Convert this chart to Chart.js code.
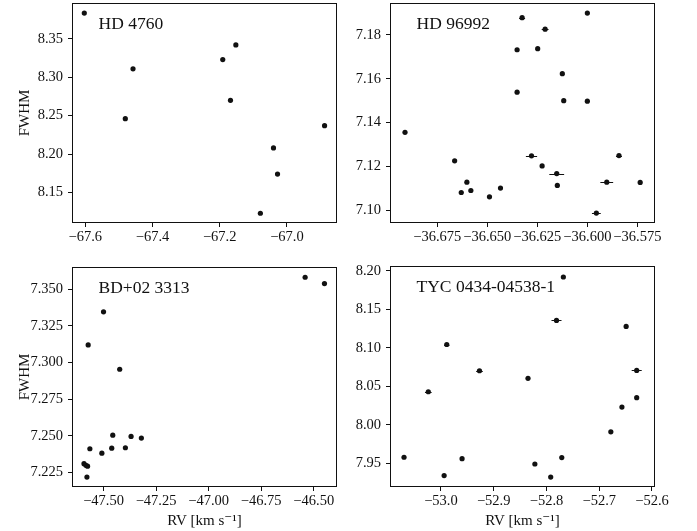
<!DOCTYPE html>
<html>
<head>
<meta charset="utf-8">
<script src="https://cdn.jsdelivr.net/npm/chart.js@4.4.1/dist/chart.umd.min.js"></script>
<style>
  html, body { margin: 0; padding: 0; background: #fff; }
  #wrap { position: relative; width: 697px; height: 531px; }
  #wrap canvas { position: absolute; left: 0; top: 0; }
</style>
</head>
<body>
<div id="wrap">
  <canvas id="p1" width="697" height="531"></canvas>
  <canvas id="p2" width="697" height="531"></canvas>
  <canvas id="p3" width="697" height="531"></canvas>
  <canvas id="p4" width="697" height="531"></canvas>
</div>
<script>
// ---- star names ----
const starNames = ['HD 4760', 'HD 96992', 'BD+02 3313', 'TYC 0434-04538-1'];

// ---- HD 4760 ----
const rvHD4760 = [-67.603, -67.458, -67.481, -67.191, -67.152, -67.168, -67.040, -67.028, -67.079, -66.888];
const fwhmHD4760 = [8.3835, 8.311, 8.246, 8.323, 8.342, 8.270, 8.208, 8.174, 8.123, 8.237];
const xTicksHD4760 = [-67.6, -67.4, -67.2, -67.0];
const yTicksHD4760 = [8.15, 8.20, 8.25, 8.30, 8.35];

// ---- HD 96992 ----
const rvHD96992 = [-36.6911, -36.6663, -36.6630, -36.6602, -36.6582, -36.6489, -36.6434, -36.6351,
  -36.6351, -36.6326, -36.6279, -36.6248, -36.6226, -36.6211, -36.6153, -36.6150, -36.6125,
  -36.6118, -36.6000, -36.6000, -36.5955, -36.5903, -36.5842, -36.5736];
const fwhmHD96992 = [7.1356, 7.1226, 7.1082, 7.1129, 7.1091, 7.1062, 7.1102, 7.1732,
  7.1539, 7.1878, 7.1249, 7.1737, 7.1203, 7.1826, 7.1168, 7.1114, 7.1623,
  7.1500, 7.1899, 7.1498, 7.0988, 7.1129, 7.1250, 7.1128];
const rvErrHD96992 = [0.001, 0.001, 0.001, 0.001, 0.001, 0.001, 0.001, 0.001,
  0.001, 0.0015, 0.0028, 0.001, 0.001, 0.0017, 0.0037, 0.001, 0.001,
  0.001, 0.001, 0.001, 0.0022, 0.0032, 0.0015, 0.001];
const xTicksHD96992 = [-36.675, -36.650, -36.625, -36.600, -36.575];
const yTicksHD96992 = [7.10, 7.12, 7.14, 7.16, 7.18];

// ---- BD+02 3313 ----
const rvBD023313 = [-47.593, -47.584, -47.576, -47.579, -47.573, -47.565, -47.508, -47.500,
  -47.461, -47.456, -47.423, -47.396, -47.369, -47.320, -46.541, -46.449];
const fwhmBD023313 = [7.2309, 7.2298, 7.2292, 7.2218, 7.3120, 7.2411, 7.2381, 7.3346,
  7.2415, 7.2504, 7.2954, 7.2418, 7.2495, 7.2484, 7.3582, 7.3539];
const xTicksBD023313 = [-47.50, -47.25, -47.00, -46.75, -46.50];
const yTicksBD023313 = [7.225, 7.250, 7.275, 7.300, 7.325, 7.350];

// ---- TYC 0434-04538-1 ----
const rvTYC0434 = [-53.070, -53.024, -52.994, -52.989, -52.960, -52.927, -52.835, -52.822,
  -52.792, -52.781, -52.771, -52.768, -52.678, -52.657, -52.649, -52.629, -52.629];
const fwhmTYC0434 = [7.9578, 8.0430, 7.9340, 8.1044, 7.9560, 8.0703, 8.0604, 7.9490,
  7.9320, 8.1357, 7.9574, 8.1922, 7.9909, 8.0230, 8.1279, 8.0707, 8.0352];
const rvErrTYC0434 = [0.003, 0.0063, 0.003, 0.005, 0.003, 0.0063, 0.003, 0.003,
  0.003, 0.0095, 0.003, 0.003, 0.003, 0.003, 0.003, 0.0095, 0.003];
const xTicksTYC0434 = [-53.0, -52.9, -52.8, -52.7, -52.6];
const yTicksTYC0434 = [7.95, 8.00, 8.05, 8.10, 8.15, 8.20];

// ---- drawing ----
const FONT = "'Liberation Serif', 'DejaVu Serif', serif";
const INK = '#111111';
const W = 697, H = 531;

function fmt(dec) {
  return v => (v < 0 ? '\u2212' : '') + Math.abs(v).toFixed(dec);
}

// x error bars under the markers, a full box frame and the star name
const framePlugin = {
  id: 'frame',
  beforeDatasetsDraw(chart) {
    const { ctx, scales } = chart;
    chart.data.datasets.forEach(ds => {
      if (!ds.xErr) return;
      ctx.save();
      ctx.strokeStyle = INK;
      ctx.lineWidth = 1;
      ds.data.forEach((p, i) => {
        const e = ds.xErr[i];
        if (!e) return;
        const x0 = scales.x.getPixelForValue(p.x - e);
        const x1 = scales.x.getPixelForValue(p.x + e);
        const y = Math.round(scales.y.getPixelForValue(p.y)) + 0.5;
        ctx.beginPath();
        ctx.moveTo(x0, y);
        ctx.lineTo(x1, y);
        ctx.stroke();
      });
      ctx.restore();
    });
  },
  afterDraw(chart, args, opts) {
    const { ctx, chartArea: a } = chart;
    ctx.save();
    ctx.strokeStyle = INK;
    ctx.lineWidth = 1;
    ctx.strokeRect(Math.round(a.left) + 0.5, Math.round(a.top) + 0.5,
      Math.round(a.right - a.left) - 1, Math.round(a.bottom - a.top) - 1);
    if (opts.label) {
      ctx.fillStyle = INK;
      ctx.font = '17.5px ' + FONT;
      ctx.textAlign = 'left';
      ctx.textBaseline = 'alphabetic';
      ctx.fillText(opts.label, a.left + 0.1 * (a.right - a.left), a.top + 26);
    }
    ctx.restore();
  }
};

function panel(id, o) {
  const tickFont = { family: FONT, size: 14.5 };
  const titleFont = { family: FONT, size: 15 };
  new Chart(document.getElementById(id), {
    type: 'scatter',
    data: {
      datasets: [{
        data: o.rv.map((x, i) => ({ x: x, y: o.fw[i] })),
        xErr: o.err || null,
        backgroundColor: INK,
        borderWidth: 0,
        pointRadius: 2.6,
        pointHoverRadius: 2.6
      }]
    },
    options: {
      responsive: false,
      animation: false,
      events: [],
      layout: {
        autoPadding: false,
        padding: { left: o.padL, top: o.area.top, right: W - o.area.right, bottom: 0 }
      },
      plugins: {
        legend: { display: false },
        tooltip: { enabled: false },
        frame: { label: o.name }
      },
      scales: {
        x: {
          type: 'linear',
          position: 'bottom',
          min: o.xr[0], max: o.xr[1],
          afterBuildTicks: s => { s.ticks = o.xt.map(v => ({ value: v })); },
          afterFit: s => { s.height = H - o.area.bottom; s.paddingLeft = 0; s.paddingRight = 0; },
          ticks: { callback: fmt(o.xd), autoSkip: false, maxRotation: 0, minRotation: 0,
                   padding: 1.5, color: INK, font: tickFont },
          grid: { drawOnChartArea: false, drawTicks: true, tickLength: 4, tickWidth: 1, tickColor: INK },
          border: { display: false },
          title: { display: !!o.xTitle, text: o.xTitle || '', color: INK, font: titleFont,
                   padding: { top: 0, bottom: 1 } }
        },
        y: {
          type: 'linear',
          position: 'left',
          min: o.yr[0], max: o.yr[1],
          afterBuildTicks: s => { s.ticks = o.yt.map(v => ({ value: v })); },
          afterFit: s => { s.width = o.area.left - o.padL; s.paddingTop = 0; s.paddingBottom = 0; },
          ticks: { callback: fmt(o.yd), autoSkip: false, padding: 5, color: INK, font: tickFont },
          grid: { drawOnChartArea: false, drawTicks: true, tickLength: 4, tickWidth: 1, tickColor: INK },
          border: { display: false },
          title: { display: !!o.yTitle, text: o.yTitle || '', color: INK, font: titleFont,
                   padding: { top: 16, bottom: 0 } }
        }
      }
    },
    plugins: [framePlugin]
  });
}

const RV_LABEL = 'RV [km s\u207B\u00B9]';

panel('p1', {
  name: starNames[0], rv: rvHD4760, fw: fwhmHD4760,
  xt: xTicksHD4760, yt: yTicksHD4760, xd: 1, yd: 2,
  xr: [-67.6396, -66.851], yr: [8.1103, 8.3966],
  area: { left: 72, right: 337, top: 3, bottom: 223 }, padL: 0,
  yTitle: 'FWHM'
});
panel('p2', {
  name: starNames[1], rv: rvHD96992, fw: fwhmHD96992, err: rvErrHD96992,
  xt: xTicksHD96992, yt: yTicksHD96992, xd: 3, yd: 2,
  xr: [-36.6986, -36.5662], yr: [7.0943, 7.1945],
  area: { left: 390, right: 655, top: 3, bottom: 223 }, padL: 348
});
panel('p3', {
  name: starNames[2], rv: rvBD023313, fw: fwhmBD023313,
  xt: xTicksBD023313, yt: yTicksBD023313, xd: 2, yd: 3,
  xr: [-47.650, -46.3894], yr: [7.2150, 7.3652],
  area: { left: 72, right: 337, top: 267, bottom: 487 }, padL: 0,
  yTitle: 'FWHM', xTitle: RV_LABEL
});
panel('p4', {
  name: starNames[3], rv: rvTYC0434, fw: fwhmTYC0434, err: rvErrTYC0434,
  xt: xTicksTYC0434, yt: yTicksTYC0434, xd: 1, yd: 2,
  xr: [-53.0966, -52.5943], yr: [7.9191, 8.2065],
  area: { left: 390, right: 655, top: 266, bottom: 487 }, padL: 348,
  xTitle: RV_LABEL
});
</script>
</body>
</html>
